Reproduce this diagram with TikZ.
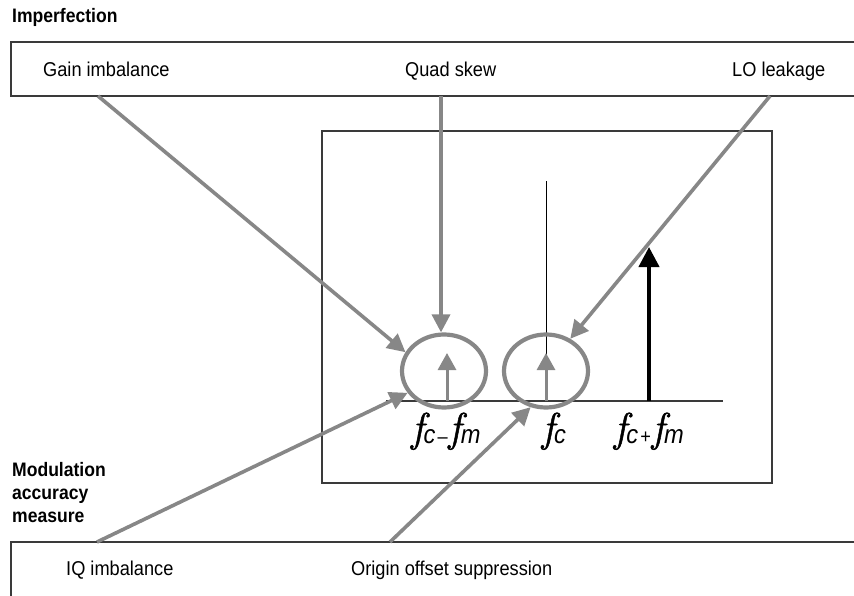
\documentclass[tikz,border=0pt]{standalone}
\usepackage{fontspec}
\setmainfont{Liberation Sans}[FakeStretch=0.91]
\newfontfamily\headfont{Liberation Sans}[FakeStretch=0.9]
\newfontfamily\freqfont{Latin Modern Roman}[FakeBold=1.2]
\usetikzlibrary{arrows.meta, positioning, shapes.geometric}
\definecolor{ptrgray}{HTML}{878787}
\definecolor{framegray}{HTML}{3A3A3A}
\newcommand{\fsym}{\raisebox{1.5pt}{\freqfont\itshape\fontsize{41}{41}\selectfont f}}
\newcommand{\fidx}[1]{{\fontsize{26}{26}\selectfont\itshape #1}}
\newcommand{\fop}[1]{{\fontsize{20}{20}\selectfont\kern2pt #1\kern1pt}}

\begin{document}
\begin{tikzpicture}[
  x=1pt, y=-1pt,
  font=\fontsize{20}{24}\selectfont,
  txt/.style={anchor=base west, inner sep=0pt},
  head/.style={anchor=north west, inner sep=0pt, align=left, font=\headfont\bfseries\fontsize{19.5}{23}\selectfont},
  frame/.style={draw=framegray, line width=1.4pt},
  ptr/.style={draw=ptrgray, line width=3.6pt, -{Triangle[length=18pt, width=18pt]}},
  ring/.style={ellipse, draw=ptrgray, line width=4.2pt, minimum width=84pt, minimum height=73pt, inner sep=0pt},
  tone/.style={draw=ptrgray, line width=3pt, -{Triangle[length=17pt, width=18pt]}},
  freq/.style={anchor=base, inner sep=0pt}
]
\useasboundingbox (0,0) rectangle (854,596);

% imperfection panel
\node[head] (imphead) at (12,8) {Imperfection};
\draw[frame] (860,42) -| (11,96) -- (860,96);
\node[txt] (gain) at (43,77) {Gain imbalance};
\node[txt] (skew) at (405,77) {Quad skew};
\node[txt] (leak) at (732,77) {LO leakage};
\coordinate (gainfoot) at (98,96);
\coordinate (skewfoot) at (441,96);
\coordinate (leakfoot) at (770,96);

% measure panel
\node[head] (modhead) at (12,462) {Modulation\\accuracy\\measure};
\draw[frame] (860,542) -| (11,600);
\node[txt] (iq) at (66,575) {IQ imbalance};
\node[txt] (offset) at (351,575) {Origin offset suppression};
\coordinate (iqfoot) at (97,542);
\coordinate (offsetfoot) at (390,542);

% spectrum
\draw[frame] (322,131) rectangle (772,483);
\coordinate (axl) at (386,401);
\coordinate (axr) at (723,401);
\draw[framegray, line width=1.4pt] (axl) -- (axr);
\coordinate (lsbbase) at (447,401);
\coordinate (carbase) at (546,401);
\coordinate (usbbase) at (649,401);
\draw[black, line width=1pt] (carbase) -- (546,181);
\node[ring] (lsb) at (444,371) {};
\node[ring] (car) at (546,371) {};
\draw[tone] (lsbbase) -- (447,353);
\draw[tone] (carbase) -- (546,353);

\node[freq] (lsblbl) at (446,443) {\fsym\fidx{c}\fop{--}\fsym\fidx{m}};
\node[freq] (carlbl) at (554,443) {\fsym\fidx{c}};
\node[freq] (usblbl) at (649,443) {\fsym\fidx{c}\fop{+}\fsym\fidx{m}};

% pointers
\draw[ptr] (gainfoot) -- (lsb.154);
\draw[ptr] (skewfoot) -- (skewfoot |- lsb.north);
\draw[ptr] (leakfoot) -- (car.53);
\draw[ptr] (iqfoot) -- (lsb.211);
\draw[ptr] (offsetfoot) -- (car.247);

\draw[black, line width=4pt, -{Triangle[length=20pt, width=20pt]}] (usbbase) -- (649,247);
\end{tikzpicture}
\end{document}
